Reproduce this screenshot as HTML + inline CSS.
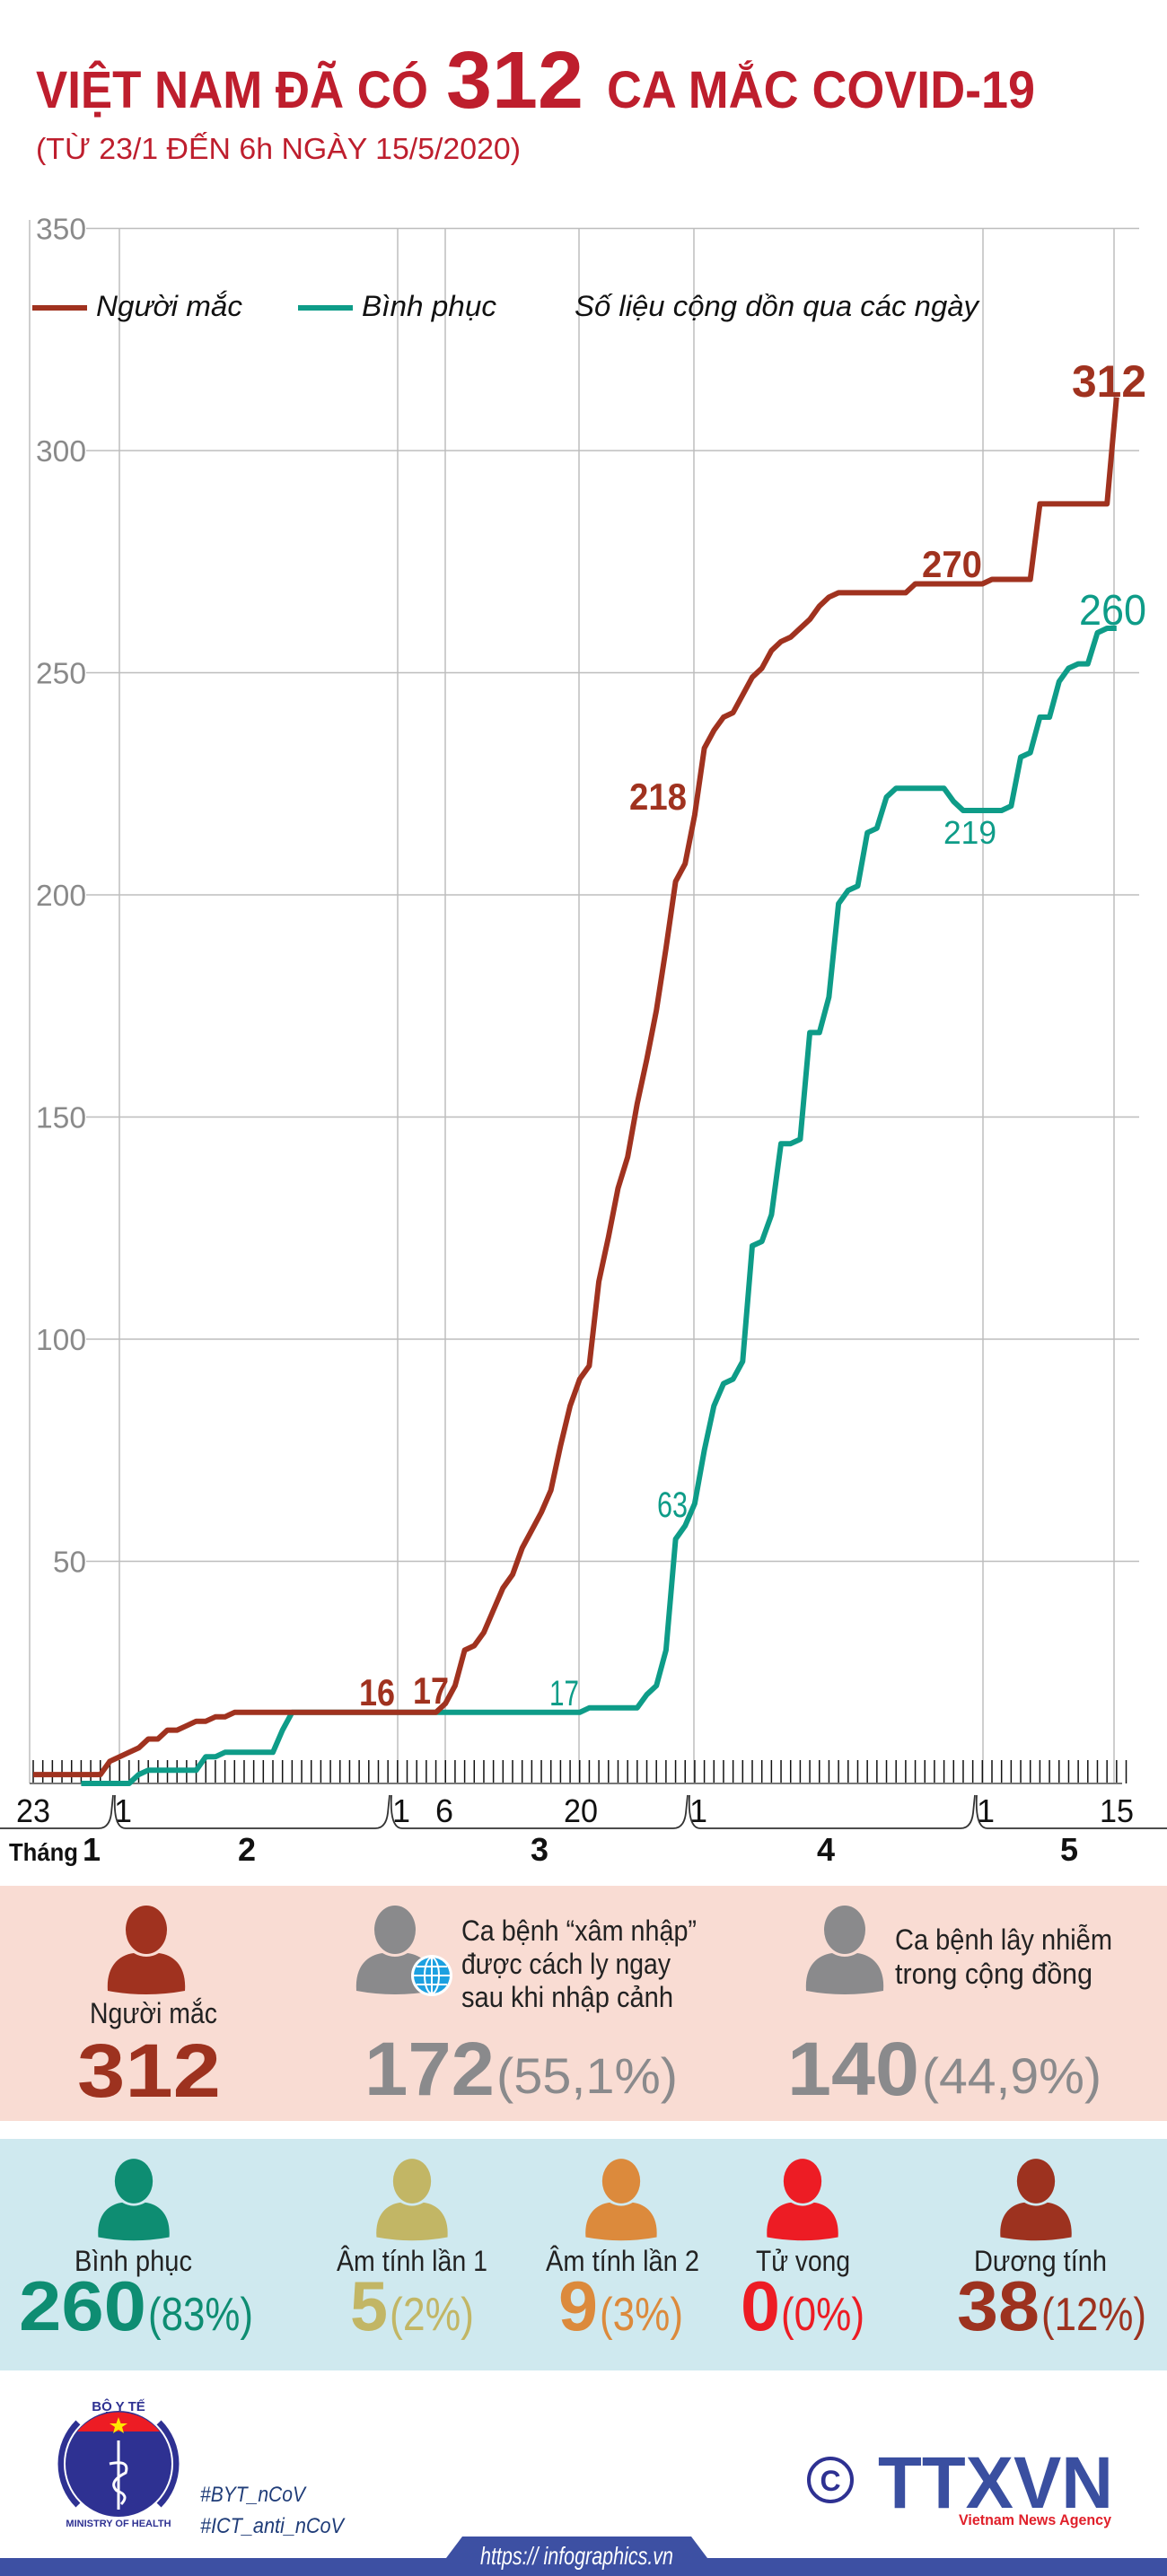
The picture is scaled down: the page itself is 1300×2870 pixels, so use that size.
<!DOCTYPE html>
<html><head><meta charset="utf-8">
<style>
html,body{margin:0;padding:0;background:#fff;}
svg{display:block;}
text{font-family:"Liberation Sans Narrow","Liberation Sans","DejaVu Sans",sans-serif;}
</style></head>
<body>
<svg id="s" width="1300" height="2870" viewBox="0 0 1300 2870" xmlns="http://www.w3.org/2000/svg">
<rect width="1300" height="2870" fill="#fff"/>
<!-- Title -->
<text x="40" y="120" font-size="58" font-weight="bold" fill="#be1e2d" textLength="437" lengthAdjust="spacingAndGlyphs">VIỆT NAM ĐÃ CÓ</text>
<text x="497" y="120" font-size="90" font-weight="bold" fill="#be1e2d" textLength="153" lengthAdjust="spacingAndGlyphs">312</text>
<text x="676" y="120" font-size="58" font-weight="bold" fill="#be1e2d" textLength="477" lengthAdjust="spacingAndGlyphs">CA MẮC COVID-19</text>
<text x="40" y="177" font-size="33" fill="#be1e2d" textLength="540" lengthAdjust="spacingAndGlyphs">(TỪ 23/1 ĐẾN 6h NGÀY 15/5/2020)</text>

<g id="grid" stroke="#bdbdbd" stroke-width="1.5"></g>
<g id="ylab" font-size="33" fill="#8a8a8a"></g>
<line x1="33" y1="245" x2="33" y2="1987" stroke="#bdbdbd" stroke-width="1.5"/>

<!-- Legend -->
<line x1="36" y1="343" x2="97" y2="343" stroke="#a0321f" stroke-width="6"/>
<text x="107" y="352" font-size="32" font-style="italic" fill="#111" textLength="163" lengthAdjust="spacingAndGlyphs">Người mắc</text>
<line x1="332" y1="343" x2="393" y2="343" stroke="#0e9c88" stroke-width="6"/>
<text x="403" y="352" font-size="32" font-style="italic" fill="#111" textLength="150" lengthAdjust="spacingAndGlyphs">Bình phục</text>
<text x="640" y="352" font-size="32" font-style="italic" fill="#111" textLength="450" lengthAdjust="spacingAndGlyphs">Số liệu cộng dồn qua các ngày</text>

<g id="ticks" stroke="#111" stroke-width="1.5"></g>
<line x1="33" y1="1987" x2="1250" y2="1987" stroke="#777" stroke-width="2"/>

<polyline id="teal" fill="none" stroke="#0e9c88" stroke-width="6" stroke-linejoin="round"/>
<polyline id="red" fill="none" stroke="#a0321f" stroke-width="6" stroke-linejoin="round"/>

<!-- Data labels -->
<g font-weight="bold" fill="#a0321f">
<text x="400" y="1900" font-size="42" textLength="40" lengthAdjust="spacingAndGlyphs">16</text>
<text x="460" y="1898" font-size="42" textLength="40" lengthAdjust="spacingAndGlyphs">17</text>
<text x="701" y="902" font-size="42" textLength="64" lengthAdjust="spacingAndGlyphs">218</text>
<text x="1027" y="643" font-size="42" textLength="67" lengthAdjust="spacingAndGlyphs">270</text>
<text x="1194" y="442" font-size="50" textLength="83" lengthAdjust="spacingAndGlyphs">312</text>
</g>
<g fill="#0e9c88">
<text x="612" y="1900" font-size="40" textLength="33" lengthAdjust="spacingAndGlyphs">17</text>
<text x="732" y="1690" font-size="40" textLength="34" lengthAdjust="spacingAndGlyphs">63</text>
<text x="1051" y="940" font-size="36" textLength="59" lengthAdjust="spacingAndGlyphs">219</text>
<text x="1202" y="696" font-size="48" textLength="75" lengthAdjust="spacingAndGlyphs">260</text>
</g>

<!-- X labels -->
<g font-size="36" fill="#111">
<text x="18" y="2030" textLength="38" lengthAdjust="spacingAndGlyphs">23</text>
<text x="127" y="2030">1</text>
<text x="437" y="2030">1</text>
<text x="485" y="2030">6</text>
<text x="628" y="2030" textLength="38" lengthAdjust="spacingAndGlyphs">20</text>
<text x="768" y="2030">1</text>
<text x="1088" y="2030">1</text>
<text x="1225" y="2030" textLength="38" lengthAdjust="spacingAndGlyphs">15</text>
</g>
<path d="M0,2037 H110 Q122,2037 124,2020 L126,2000 M128,2000 Q126,2037 140,2037 H418 Q430,2037 432,2020 L434,2000 M436,2000 Q434,2037 448,2037 H750 Q762,2037 764,2020 L766,2000 M768,2000 Q766,2037 780,2037 H1070 Q1082,2037 1084,2020 L1086,2000 M1088,2000 Q1086,2037 1100,2037 H1300" fill="none" stroke="#333" stroke-width="1.8"/>
<g font-weight="bold" fill="#111">
<text x="10" y="2073" font-size="28" textLength="77" lengthAdjust="spacingAndGlyphs">Tháng</text>
<text x="92" y="2073" font-size="36">1</text>
<text x="265" y="2073" font-size="36">2</text>
<text x="591" y="2073" font-size="36">3</text>
<text x="910" y="2073" font-size="36">4</text>
<text x="1181" y="2073" font-size="36">5</text>
</g>

<defs>
<g id="person">
<ellipse cx="0" cy="0" rx="23" ry="27"/>
<path d="M-43,68 C-45,40 -30,28 -14,26 Q0,34 14,26 C30,28 45,40 43,68 Q0,76 -43,68 Z"/>
</g>
</defs>

<!-- Pink section -->
<rect x="0" y="2101" width="1300" height="262" fill="#f9dcd3"/>
<use href="#person" x="163" y="2150" fill="#a0321f"/>
<text x="100" y="2254" font-size="32" fill="#222" textLength="142" lengthAdjust="spacingAndGlyphs">Người mắc</text>
<text x="166" y="2336" font-size="84" font-weight="bold" text-anchor="middle" fill="#9d321f" textLength="160" lengthAdjust="spacingAndGlyphs">312</text>

<use href="#person" x="440" y="2150" fill="#8a8a8c"/>
<circle cx="481" cy="2201" r="23" fill="#fff"/>
<circle cx="481" cy="2201" r="20" fill="#1ca0e0"/>
<g stroke="#fff" stroke-width="2" fill="none">
<ellipse cx="481" cy="2201" rx="8" ry="20"/><line x1="481" y1="2181" x2="481" y2="2221"/>
<line x1="461" y1="2201" x2="501" y2="2201"/><line x1="464" y1="2191" x2="498" y2="2191"/><line x1="464" y1="2211" x2="498" y2="2211"/>
</g>
<g font-size="32" fill="#222">
<text x="514" y="2162" textLength="262" lengthAdjust="spacingAndGlyphs">Ca bệnh “xâm nhập”</text>
<text x="514" y="2199" textLength="233" lengthAdjust="spacingAndGlyphs">được cách ly ngay</text>
<text x="514" y="2236" textLength="236" lengthAdjust="spacingAndGlyphs">sau khi nhập cảnh</text>
</g>
<text x="406" y="2334" font-size="84" font-weight="bold" fill="#8a8a8c" textLength="145" lengthAdjust="spacingAndGlyphs">172</text>
<text x="553" y="2332" font-size="56" fill="#8a8a8c" textLength="202" lengthAdjust="spacingAndGlyphs">(55,1%)</text>

<use href="#person" x="941" y="2150" fill="#8a8a8c"/>
<g font-size="32" fill="#222">
<text x="997" y="2172" textLength="242" lengthAdjust="spacingAndGlyphs">Ca bệnh lây nhiễm</text>
<text x="997" y="2210" textLength="220" lengthAdjust="spacingAndGlyphs">trong cộng đồng</text>
</g>
<text x="877" y="2334" font-size="84" font-weight="bold" fill="#8a8a8c" textLength="147" lengthAdjust="spacingAndGlyphs">140</text>
<text x="1027" y="2332" font-size="56" fill="#8a8a8c" textLength="200" lengthAdjust="spacingAndGlyphs">(44,9%)</text>

<!-- Blue section -->
<rect x="0" y="2383" width="1300" height="258" fill="#cfe9ef"/>
<g transform="translate(149,2430) scale(0.92)" fill="#0e8d72"><use href="#person"/></g>
<g transform="translate(459,2430) scale(0.92)" fill="#c2b665"><use href="#person"/></g>
<g transform="translate(692,2430) scale(0.92)" fill="#dc8a3c"><use href="#person"/></g>
<g transform="translate(894,2430) scale(0.92)" fill="#ed1c24"><use href="#person"/></g>
<g transform="translate(1154,2430) scale(0.92)" fill="#9d321f"><use href="#person"/></g>
<g font-size="32" fill="#222">
<text x="83" y="2530" textLength="131" lengthAdjust="spacingAndGlyphs">Bình phục</text>
<text x="375" y="2530" textLength="168" lengthAdjust="spacingAndGlyphs">Âm tính lần 1</text>
<text x="608" y="2530" textLength="171" lengthAdjust="spacingAndGlyphs">Âm tính lần 2</text>
<text x="842" y="2530" textLength="105" lengthAdjust="spacingAndGlyphs">Tử vong</text>
<text x="1085" y="2530" textLength="148" lengthAdjust="spacingAndGlyphs">Dương tính</text>
</g>
<g font-weight="bold" font-size="78">
<text x="21" y="2596" fill="#0e8d72" textLength="142" lengthAdjust="spacingAndGlyphs">260</text>
<text x="390" y="2596" fill="#c2b665" textLength="42" lengthAdjust="spacingAndGlyphs">5</text>
<text x="622" y="2596" fill="#dc8a3c" textLength="44" lengthAdjust="spacingAndGlyphs">9</text>
<text x="825" y="2596" fill="#ed1c24" textLength="44" lengthAdjust="spacingAndGlyphs">0</text>
<text x="1066" y="2596" fill="#9d321f" textLength="92" lengthAdjust="spacingAndGlyphs">38</text>
</g>
<g font-size="52">
<text x="165" y="2596" fill="#0e8d72" textLength="117" lengthAdjust="spacingAndGlyphs">(83%)</text>
<text x="434" y="2596" fill="#c2b665" textLength="94" lengthAdjust="spacingAndGlyphs">(2%)</text>
<text x="668" y="2596" fill="#dc8a3c" textLength="93" lengthAdjust="spacingAndGlyphs">(3%)</text>
<text x="870" y="2596" fill="#ed1c24" textLength="93" lengthAdjust="spacingAndGlyphs">(0%)</text>
<text x="1160" y="2596" fill="#9d321f" textLength="117" lengthAdjust="spacingAndGlyphs">(12%)</text>
</g>

<!-- Footer logo -->
<path d="M88,2700 A64,64 0 0 0 88,2790" fill="none" stroke="#2e3192" stroke-width="10"/>
<path d="M176,2700 A64,64 0 0 1 176,2790" fill="none" stroke="#2e3192" stroke-width="10"/>
<circle cx="132" cy="2745" r="60" fill="#2e3192" stroke="#fff" stroke-width="2"/>
<path d="M86,2709 A60,60 0 0 1 178,2709 Z" fill="#ed1c24"/>
<polygon points="132,2693 134.5,2700 142,2700 136,2704 138,2711 132,2707 126,2711 128,2704 122,2700 129.5,2700" fill="#ffe600"/>
<line x1="132" y1="2719" x2="132" y2="2796" stroke="#fff" stroke-width="3"/>
<path d="M122,2745 Q145,2740 140,2755 Q120,2765 130,2775 Q145,2780 135,2790" fill="none" stroke="#fff" stroke-width="3"/>
<text x="132" y="2686" font-size="15" font-weight="bold" fill="#2e3192" text-anchor="middle" font-family="Liberation Sans">BỘ Y TẾ</text>
<text x="132" y="2815" font-size="11" font-weight="bold" fill="#2e3192" text-anchor="middle" font-family="Liberation Sans">MINISTRY OF HEALTH</text>
<g font-size="24" font-style="italic" fill="#1f3c78">
<text x="223" y="2787" textLength="117" lengthAdjust="spacingAndGlyphs">#BYT_nCoV</text>
<text x="223" y="2822" textLength="160" lengthAdjust="spacingAndGlyphs">#ICT_anti_nCoV</text>
</g>
<circle cx="925" cy="2763" r="24" fill="none" stroke="#2e3192" stroke-width="4"/>
<text x="925" y="2775" font-size="32" font-weight="bold" fill="#2e3192" text-anchor="middle" font-family="Liberation Sans">C</text>
<text x="978" y="2794" font-size="82" font-weight="bold" fill="#3a4fa0" font-family="Liberation Sans" textLength="262" lengthAdjust="spacingAndGlyphs">TTXVN</text>
<text x="1068" y="2813" font-size="17" font-weight="bold" fill="#e0202a" font-family="Liberation Sans" textLength="170" lengthAdjust="spacingAndGlyphs">Vietnam News Agency</text>
<!-- Bottom bar -->
<rect x="0" y="2850" width="1300" height="20" fill="#3d50a3"/>
<polygon points="497,2850 515,2826 770,2826 788,2850" fill="#3d50a3"/>
<text x="535" y="2857" font-size="28" font-style="italic" fill="#fff" textLength="215" lengthAdjust="spacingAndGlyphs">https:// infographics.vn</text>
</svg>
<script>
(function(){
var NS="http://www.w3.org/2000/svg";
function X(d){return 37+10.68*d;}
function Y(v){return 1987-4.95*v;}
function el(p,n,a){var e=document.createElementNS(NS,n);for(var k in a)e.setAttribute(k,a[k]);p.appendChild(e);return e;}
var grid=document.getElementById('grid'),yl=document.getElementById('ylab');
for(var v=50;v<=350;v+=50){el(grid,'line',{x1:96,y1:Y(v),x2:1269,y2:Y(v)});var t=el(yl,'text',{x:v<100?59:40,y:Y(v)+12,textLength:v<100?37:56,lengthAdjust:'spacingAndGlyphs'});t.textContent=v;}
[133,443,496,645,773,1095,1241].forEach(function(x){el(grid,'line',{x1:x,y1:255,x2:x,y2:1987});});
var tk=document.getElementById('ticks');
for(var d=0;d<=114;d++){el(tk,'line',{x1:X(d),y1:1961,x2:X(d),y2:1987});}
function build(ch,start,end){var pts=[],cur=null;var m={};ch.forEach(function(c){m[c[0]]=c[1];});
for(var d=start;d<=end;d++){if(m[d]!==undefined)cur=m[d];pts.push(X(d).toFixed(1)+','+Y(cur).toFixed(1));}return pts.join(' ');}
var red=[[0,2],[7,2],[8,5],[9,6],[10,7],[11,8],[12,10],[14,12],[16,13],[17,14],[19,15],[21,16],[42,16],[43,18],[44,22],[45,30],[46,31],[47,34],[48,39],[49,44],[50,47],[51,53],[52,57],[53,61],[54,66],[55,76],[56,85],[57,91],[58,94],[59,113],[60,123],[61,134],[62,141],[63,153],[64,163],[65,174],[66,188],[67,203],[68,207],[69,218],[70,233],[71,237],[72,240],[73,241],[74,245],[75,249],[76,251],[77,255],[78,257],[79,258],[80,260],[81,262],[82,265],[83,267],[84,268],[92,270],[100,271],[105,288],[112,288],[113,312]];
var teal=[[5,0],[10,0],[11,2],[12,3],[17,3],[18,6],[20,7],[25,7],[26,12],[27,16],[57,16],[58,17],[63,17],[64,20],[65,22],[66,30],[67,55],[68,58],[69,63],[70,75],[71,85],[72,90],[73,91],[74,95],[75,121],[76,122],[77,128],[78,144],[80,145],[81,169],[82,169],[83,177],[84,198],[85,201],[86,202],[87,214],[88,215],[89,222],[90,224],[95,224],[96,221],[97,219],[101,219],[102,220],[103,231],[104,232],[105,240],[106,240],[107,248],[108,251],[109,252],[110,252],[111,259],[112,260],[113,260]];
document.getElementById('red').setAttribute('points',build(red,0,113));
document.getElementById('teal').setAttribute('points',build(teal,5,113));
})();
</script>
</body></html>
